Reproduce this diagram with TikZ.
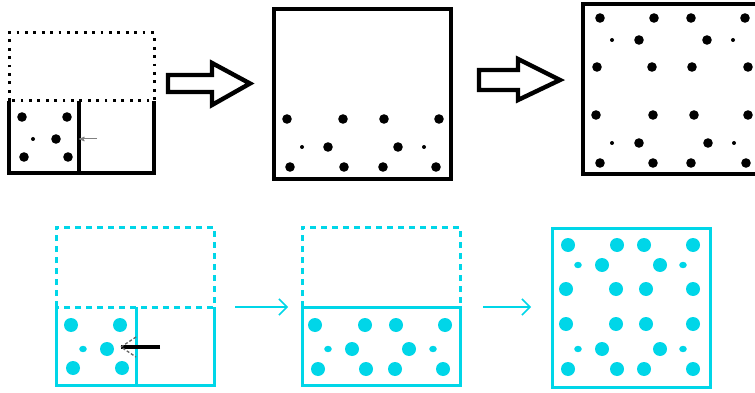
\documentclass[tikz,border=0pt]{standalone}
\usepackage{tikz}
\usetikzlibrary{arrows,arrows.meta}
\definecolor{tank}{RGB}{0,214,232}
\tikzset{
	wall/.style = {line width=3.2pt, black},
	dotwall/.style = {line width=3pt, black, dash pattern=on 2.8pt off 5.6pt},
	cwall/.style = {line width=3pt, tank},
	cdash/.style = {line width=3pt, tank, dash pattern=on 6pt off 5pt},
	flow/.style = {line width=4.4pt, black, fill=white, line join=miter},
	cflow/.style = {line width=2pt, tank, -{Straight Barb[length=8pt,width=16pt,line width=1.5pt]}}
}
\begin{document}
\begin{tikzpicture}[x=1pt,y=-1pt]
\clip (0,0) rectangle (755,393);
% upper row
\draw[dotwall] (9,101) -- (9,33) -- (154,33) -- (154,101) -- cycle;
\draw[wall] (9,101) -- (9,173) -- (154,173) -- (154,101) (79,101) -- (79,173);
\foreach \p in {(22,117),(67,117),(56,139),(24,157),(68,157)}
	\fill \p circle (4.8pt);
\fill (33,139) circle (2pt);
\coordinate (pushT) at (97,139);
\coordinate (holeT) at (79,139);
\draw[gray, line width=1pt, ->, >=stealth'] (pushT) -- (holeT);

\draw[flow] (168,75) -- (212,75) -- (212,63) -- (250,83.5) -- (212,105) -- (212,92) -- (168,92) -- cycle;

\draw[wall, line width=3.6pt] (274,9) rectangle (451,179);
\foreach \p in {(287,119),(343,119),(384,119),(439,119),(328,147),(398,147),
	(290,167),(344,167),(383,167),(436,167)}
	\fill \p circle (4.8pt);
\foreach \p in {(302,147),(424,147)}
	\fill \p circle (2pt);

\draw[flow] (479,70) -- (518,70) -- (518,59) -- (560,80) -- (518,100) -- (518,90) -- (479,90) -- cycle;

\draw[wall, line width=4pt] (583,4) rectangle (765,174);
\foreach \p in {(600,18),(654,18),(691,18),(745,18),(639,40),(707,40),
	(597,67),(652,67),(692,67),(748,67),(596,115),(653,115),(694,115),(748,115),
	(639,143),(708,143),(600,163),(653,163),(691,163),(746,163)}
	\fill \p circle (4.8pt);
\foreach \p in {(612,40),(733,40),(612,143),(734,143)}
	\fill \p circle (2pt);

% lower row
\draw[cdash] (56,307) -- (56,227) -- (214,227) -- (214,307) -- cycle;
\draw[cwall] (56,307) -- (56,385) -- (214,385) -- (214,307) (136,307) -- (136,385);
\foreach \p in {(71,325),(120,325),(107,349),(73,368),(122,368)}
	\fill[tank] \p circle (7pt);
\fill[tank] (83,349) ellipse (3.8pt and 3.2pt);
\coordinate (pushB) at (160,347);
\coordinate (holeB) at (121,347);
\draw[black, line width=4pt] (pushB) -- (holeB);
\draw[black!60, line width=1.3pt, dash pattern=on 3pt off 2pt] (holeB) ++(15,-10) -- (holeB) -- ++(15,10);

\coordinate (outA) at (235,307);
\coordinate (inA) at (288,307);
\draw[cflow] (outA) -- (inA);

\draw[cdash] (302,307) -- (302,227) -- (460,227) -- (460,307);
\draw[cwall] (302,307) rectangle (460,385);
\foreach \p in {(315,325),(365,325),(396,325),(445,325),(352,349),(409,349),
	(318,369),(366,369),(395,369),(443,369)}
	\fill[tank] \p circle (7pt);
\foreach \p in {(328,349),(433,349)}
	\fill[tank] \p ellipse (3.8pt and 3.2pt);

\coordinate (outB) at (483,307);
\coordinate (inB) at (531,307);
\draw[cflow] (outB) -- (inB);

\draw[cwall] (552,228) rectangle (710,387);
\foreach \p in {(568,245),(617,245),(644,245),(693,245),(602,265),(660,265),
	(566,289),(616,289),(646,289),(693,289),(566,324),(616,324),(646,324),(693,324),
	(602,349),(660,349),(568,369),(617,369),(644,369),(693,369)}
	\fill[tank] \p circle (7pt);
\foreach \p in {(578,265),(683,265),(578,349),(683,349)}
	\fill[tank] \p ellipse (3.8pt and 3.2pt);
\end{tikzpicture}
\end{document}
